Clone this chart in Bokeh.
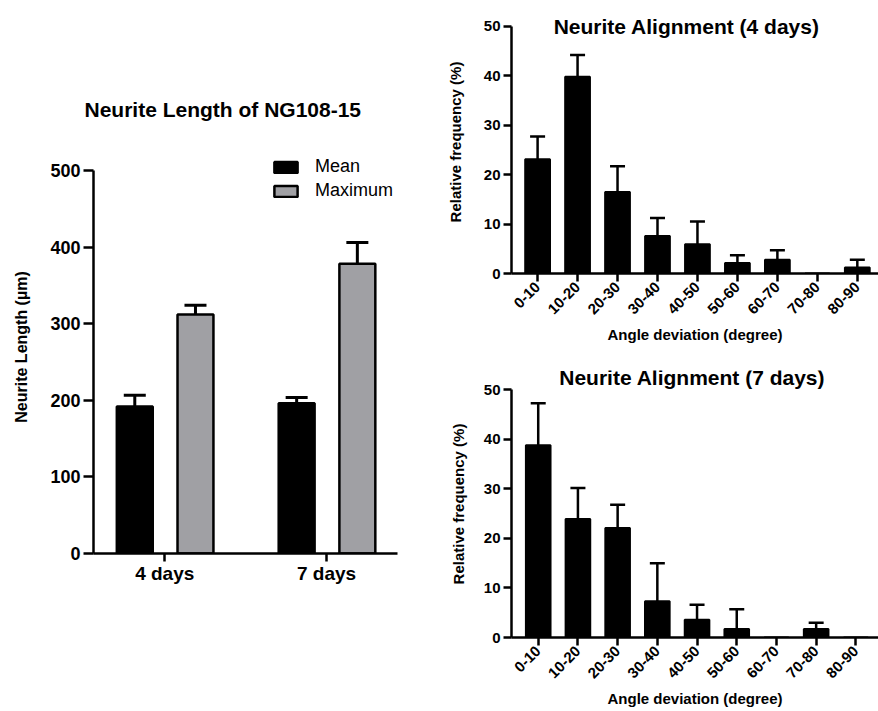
import math
from bokeh.plotting import figure
from bokeh.models import (ColumnDataSource, Range1d, FixedTicker, Whisker, TeeHead,
                          Legend, LegendItem, Label)
from bokeh.layouts import row, column
from bokeh.transform import dodge
from bokeh.embed import file_html
from bokeh.resources import INLINE

FONT = "Liberation Sans"

# ---------------- data ----------------
groups = ["4 days", "7 days"]
mean_len = [192, 196]
mean_sd = [14.5, 7.5]
max_len = [312, 378]
max_sd = [12, 28]

bins = ["0-10", "10-20", "20-30", "30-40", "40-50", "50-60", "60-70", "70-80", "80-90"]
freq_4d = [23.1, 39.8, 16.5, 7.6, 5.9, 2.1, 2.8, 0.0, 1.2]
sd_4d = [4.6, 4.4, 5.2, 3.6, 4.6, 1.6, 1.9, 0.0, 1.6]
freq_7d = [38.8, 23.9, 22.1, 7.3, 3.6, 1.7, 0.0, 1.7, 0.0]
sd_7d = [8.5, 6.3, 4.7, 7.7, 3.0, 4.0, 0.0, 1.3, 0.0]

len_ticks = [0, 100, 200, 300, 400, 500]
freq_ticks = [0, 10, 20, 30, 40, 50]


def style_axes(p, tick_size, label_size, tick_out, lw=2):
    for ax in (p.xaxis[0], p.yaxis[0]):
        ax.axis_line_width = lw
        ax.axis_line_color = "black"
        ax.major_tick_line_width = lw
        ax.major_tick_line_color = "black"
        ax.major_tick_out = tick_out
        ax.major_tick_in = 0
        ax.minor_tick_line_color = None
        ax.major_label_text_font = FONT
        ax.major_label_text_font_style = "bold"
        ax.major_label_text_font_size = tick_size
        ax.major_label_text_color = "black"
        ax.axis_label_text_font = FONT
        ax.axis_label_text_font_style = "bold"
        ax.axis_label_text_font_size = label_size
        ax.axis_label_text_color = "black"
    p.grid.visible = False
    p.outline_line_color = None


# ---------------- left chart ----------------
left = figure(width=438, height=711, output_backend="svg", toolbar_location=None,
              x_range=Range1d(-0.44, 1.438), y_range=Range1d(0, 539),
              min_border_left=93, min_border_right=41, min_border_top=140,
              min_border_bottom=158)
left.title.text = "Neurite Length of NG108-15"
left.title.text_font = FONT
left.title.text_font_style = "bold"
left.title.text_font_size = "21px"
left.title.text_color = "black"
left.title.align = "left"
left.title.offset = -9
left.title.standoff = 40

src_len = ColumnDataSource(dict(
    x=list(range(len(groups))),
    mean=mean_len,
    mean_up=[m + s for m, s in zip(mean_len, mean_sd)],
    mx=max_len,
    mx_up=[m + s for m, s in zip(max_len, max_sd)],
))
x_mean = dodge("x", -0.185, range=left.x_range)
x_max = dodge("x", 0.19, range=left.x_range)
r_mean = left.vbar(x=x_mean, top="mean", bottom=0, width=0.222, source=src_len,
                   fill_color="black", line_color="black", line_width=2.5)
r_max = left.vbar(x=x_max, top="mx", bottom=0, width=0.222, source=src_len,
                  fill_color="#a0a0a4", line_color="black", line_width=2.5)
for base, lo, up in ((x_mean, "mean", "mean_up"), (x_max, "mx", "mx_up")):
    left.add_layout(Whisker(source=src_len, base=base, lower=lo, upper=up,
                            dimension="height", line_width=3, line_color="black",
                            lower_head=None,
                            upper_head=TeeHead(size=22, line_width=3, line_color="black")))

style_axes(left, "18px", "16px", 10, lw=2.5)
left.xaxis.ticker = FixedTicker(ticks=list(range(len(groups))))
left.xaxis.major_label_overrides = {i: g for i, g in enumerate(groups)}
left.xaxis.major_label_text_font_size = "19px"
left.xaxis.major_tick_out = 8
left.xaxis.major_label_standoff = 1
left.yaxis.ticker = FixedTicker(ticks=len_ticks)
left.yaxis.bounds = (0, 500)
left.yaxis.major_label_standoff = 3
left.yaxis.axis_label = "Neurite Length (µm)"
left.yaxis.axis_label_standoff = 17

legend = Legend(items=[LegendItem(label="Mean", renderers=[r_mean]),
                       LegendItem(label="Maximum", renderers=[r_max])],
                location=(178, 352), glyph_width=29, glyph_height=14,
                label_standoff=15, padding=0, spacing=3, margin=0,
                border_line_color=None, background_fill_alpha=0,
                label_text_font=FONT, label_text_font_size="18px",
                label_text_color="black")
left.add_layout(legend)


# ---------------- right charts ----------------
def make_hist(freq, sd, title, height, mb_top, mb_bottom, mb_left, x_start, x_end,
              y_end, x_bound_end, title_x, title_y, ylab_standoff):
    p = figure(width=440, height=height, output_backend="svg", toolbar_location=None,
               x_range=Range1d(x_start, x_end), y_range=Range1d(0, y_end),
               min_border_left=mb_left, min_border_right=0, min_border_top=mb_top,
               min_border_bottom=mb_bottom)
    src = ColumnDataSource(dict(x=list(range(len(bins))), f=freq))
    p.vbar(x="x", top="f", bottom=0, width=0.62, source=src,
           fill_color="black", line_color="black", line_width=2)
    keep = [i for i, s in enumerate(sd) if s > 0]
    esrc = ColumnDataSource(dict(x=keep, lo=[freq[i] for i in keep],
                                 up=[freq[i] + sd[i] for i in keep]))
    p.add_layout(Whisker(source=esrc, base="x", lower="lo", upper="up",
                         dimension="height", line_width=2.5, line_color="black",
                         lower_head=None,
                         upper_head=TeeHead(size=15, line_width=2.5, line_color="black")))
    style_axes(p, "14px", "15px", 8, lw=2.5)
    p.xaxis.ticker = FixedTicker(ticks=list(range(len(bins))))
    p.xaxis.major_label_overrides = {i: b for i, b in enumerate(bins)}
    p.xaxis.major_label_orientation = math.pi / 4
    p.xaxis.major_label_standoff = 3
    p.xaxis.major_label_text_font_size = "15px"
    p.xaxis.bounds = (x_start, x_bound_end)
    p.xaxis.axis_label = "Angle deviation (degree)"
    p.xaxis.axis_label_standoff = 4
    p.yaxis.ticker = FixedTicker(ticks=freq_ticks)
    p.yaxis.bounds = (0, 50)
    p.yaxis.major_label_standoff = 3
    p.yaxis.major_label_text_font_size = "15px"
    p.yaxis.axis_label = "Relative frequency (%)"
    p.yaxis.axis_label_text_font_size = "15px"
    p.yaxis.axis_label_standoff = ylab_standoff
    p.add_layout(Label(x=title_x, y=title_y, text=title, text_font=FONT,
                       text_font_style="bold", text_font_size="21px",
                       text_align="center", text_baseline="middle",
                       text_color="black"))
    return p


top = make_hist(freq_4d, sd_4d, "Neurite Alignment (4 days)", 345, 10, 72, 70,
                -0.653, 8.53, 53.18, 8.73, 3.73, 50.0, 17)
bottom = make_hist(freq_7d, sd_7d, "Neurite Alignment (7 days)", 366, 25, 74, 73,
                   -0.673, 8.57, 53.9, 8.68, 3.88, 52.5, 14)

layout = row(left, column(top, bottom))
open("out.html", "w").write(file_html(layout, INLINE))
